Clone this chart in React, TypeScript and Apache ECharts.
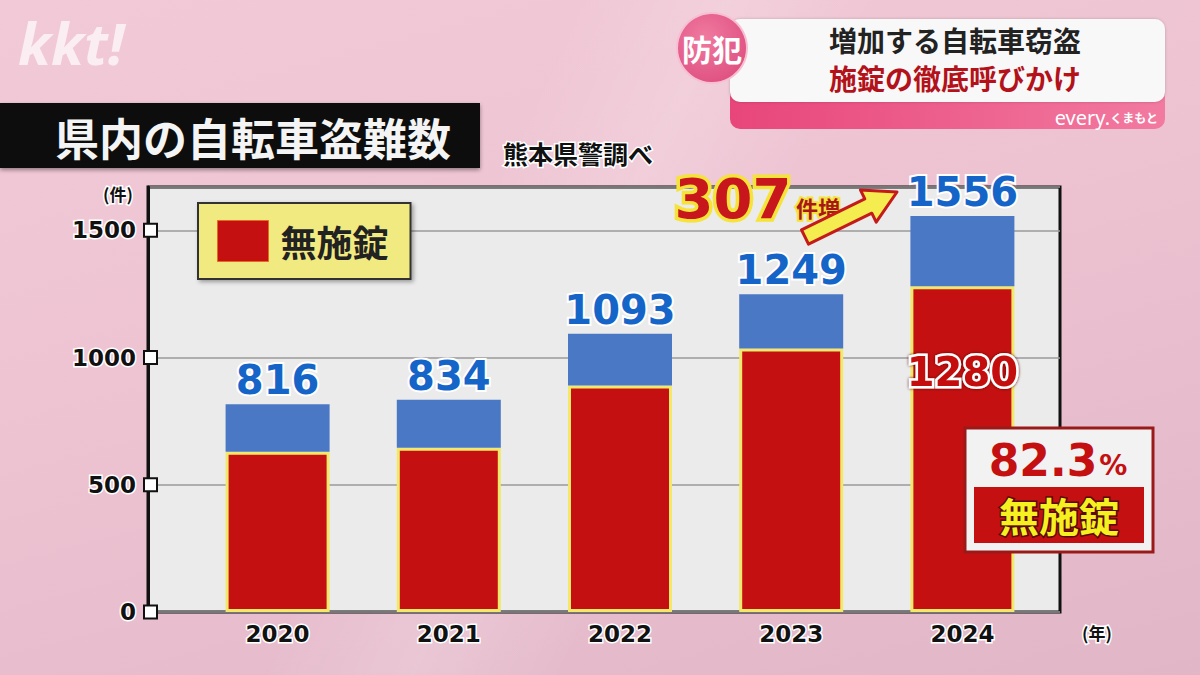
import React, { useEffect, useRef } from "react";
import * as echarts from "echarts";

const YEARS = ["2020", "2021", "2022", "2023", "2024"];
const TOTALS = [816, 834, 1093, 1249, 1556];
const UNLOCKED = [630, 645, 890, 1035, 1280];
const LOCKED = TOTALS.map((t, i) => t - UNLOCKED[i]);
const Y_MAX = 1670;
const Y_INTERVAL = 500;

const JP = '"Noto Sans CJK JP", "Noto Sans", sans-serif';
const NUM = '"DejaVu Sans", "Noto Sans", sans-serif';

export default function App() {
  const ref = useRef<HTMLDivElement>(null);
  useEffect(() => {
    if (!ref.current) return;
    const chart = echarts.init(ref.current, null, { renderer: "svg" });

    const arrowPts = [
      [808.5, 244.2],
      [871.8, 213.2],
      [876.2, 222.2],
      [897, 192],
      [860.4, 189.9],
      [864.8, 198.9],
      [801.5, 229.8],
    ];

    const option: any = {
      animation: false,
      backgroundColor: "transparent",
      grid: [
        { left: 192, right: 152, top: 187, bottom: 63, show: false },
        {
          left: 148,
          right: 140,
          top: 187,
          bottom: 63,
          show: true,
          backgroundColor: "#ebebeb",
          borderColor: "#111",
          borderWidth: 3,
        },
      ],
      xAxis: [
        {
          gridIndex: 0,
          type: "category",
          data: YEARS,
          axisLine: { show: false },
          axisTick: { show: false },
          axisLabel: {
            margin: 10,
            fontFamily: NUM,
            fontWeight: "bold",
            fontSize: 23,
            color: "#111",
            textBorderColor: "#fff",
            textBorderWidth: 3,
          },
        },
        { gridIndex: 1, type: "value", min: 0, max: 1, show: false },
      ],
      yAxis: [
        { gridIndex: 0, type: "value", min: 0, max: Y_MAX, show: false },
        {
          gridIndex: 1,
          type: "value",
          min: 0,
          max: Y_MAX,
          interval: Y_INTERVAL,
          axisLine: { show: true, lineStyle: { color: "#111", width: 3 } },
          axisTick: { show: false },
          splitLine: { show: true, lineStyle: { color: "#9a9a9a", width: 1.5 } },
          axisLabel: {
            margin: -8,
            formatter: (v: number) => (v % Y_INTERVAL === 0 ? `{t|${v}}{g|}{sq|}` : ""),
            rich: {
              t: {
                fontFamily: NUM,
                fontWeight: "bold",
                fontSize: 23,
                color: "#111",
                textBorderColor: "#fff",
                textBorderWidth: 3,
              },
              g: { width: 9 },
              sq: {
                width: 11,
                height: 11,
                backgroundColor: "#fff",
                borderColor: "#111",
                borderWidth: 2,
              },
            },
          },
        },
      ],
      legend: {
        data: ["無施錠"],
        left: 198,
        top: 203,
        padding: [17, 22, 17, 19],
        backgroundColor: "#f0ea80",
        borderColor: "#333",
        borderWidth: 2,
        shadowBlur: 4,
        shadowColor: "rgba(0,0,0,0.35)",
        shadowOffsetX: 2,
        shadowOffsetY: 2,
        itemWidth: 51,
        itemHeight: 41,
        icon: "rect",
        selectedMode: false,
        itemStyle: { borderWidth: 1, borderColor: "#e86a20" },
        textStyle: {
          fontFamily: JP,
          fontWeight: "bold",
          fontSize: 36,
          color: "#222",
          padding: [0, 0, 0, 7],
        },
      },
      series: [
        {
          name: "無施錠",
          type: "bar",
          stack: "total",
          xAxisIndex: 0,
          yAxisIndex: 0,
          barWidth: 104,
          itemStyle: { color: "#c41010", borderColor: "#f2e86a", borderWidth: 3 },
          data: UNLOCKED.map((v, i) =>
            i === UNLOCKED.length - 1
              ? {
                  value: v,
                  label: {
                    show: true,
                    position: "insideTop",
                    distance: 66,
                    formatter: (p: any) => String(p.value),
                    fontFamily: NUM,
                    fontWeight: "bold",
                    fontSize: 40,
                    color: "#c41010",
                    textBorderColor: "#fff",
                    textBorderWidth: 5,
                    textShadowColor: "#6a0c0c",
                    textShadowBlur: 3,
                  },
                }
              : v
          ),
        },
        {
          name: "施錠",
          type: "bar",
          stack: "total",
          xAxisIndex: 0,
          yAxisIndex: 0,
          barWidth: 104,
          itemStyle: { color: "#4a78c4" },
          label: {
            show: true,
            position: "top",
            distance: 4,
            formatter: (p: any) => String(TOTALS[p.dataIndex]),
            fontFamily: NUM,
            fontWeight: "bold",
            fontSize: 40,
            color: "#1565c8",
            textBorderColor: "#fff",
            textBorderWidth: 4,
          },
          data: LOCKED,
        },
      ],
      graphic: [
        // kkt logo
        {
          type: "text",
          x: 18,
          y: 42,
          z: 10,
          style: {
            text: "kkt!",
            fontFamily: '"Noto Sans", sans-serif',
            fontStyle: "italic",
            fontWeight: "bold",
            fontSize: 58,
            fill: "rgba(255,255,255,0.68)",
            verticalAlign: "middle",
          },
        },
        // title band
        {
          type: "rect",
          z: 10,
          shape: { x: 0, y: 103, width: 480, height: 65 },
          style: { fill: "#111", shadowBlur: 4, shadowColor: "rgba(0,0,0,0.4)", shadowOffsetY: 2 },
        },
        {
          type: "text",
          z: 11,
          x: 55,
          y: 137,
          style: {
            text: "県内の自転車盗難数",
            fontFamily: JP,
            fontWeight: "bold",
            fontSize: 44,
            fill: "#f4f4f4",
            verticalAlign: "middle",
          },
        },
        {
          type: "text",
          z: 11,
          x: 503,
          y: 153,
          style: {
            text: "熊本県警調べ",
            fontFamily: JP,
            fontWeight: "bold",
            fontSize: 25,
            fill: "#111",
            stroke: "#fff",
            lineWidth: 3,
            verticalAlign: "middle",
          },
        },
        // header
        {
          type: "rect",
          z: 10,
          shape: { x: 730, y: 92, width: 435, height: 37, r: [0, 0, 10, 10] },
          style: {
            fill: new echarts.graphic.LinearGradient(0, 0, 1, 0, [
              { offset: 0, color: "#e8467a" },
              { offset: 1, color: "#f27aa0" },
            ]),
          },
        },
        {
          type: "rect",
          z: 11,
          shape: { x: 730, y: 19, width: 435, height: 83, r: 10 },
          style: { fill: "#f8f8f8", shadowBlur: 3, shadowColor: "rgba(0,0,0,0.2)" },
        },
        {
          type: "text",
          z: 12,
          x: 955,
          y: 40,
          style: {
            text: "増加する自転車窃盗",
            fontFamily: JP,
            fontWeight: "bold",
            fontSize: 28,
            lineHeight: 28,
            fill: "#222",
            align: "center",
            verticalAlign: "middle",
          },
        },
        {
          type: "text",
          z: 12,
          x: 955,
          y: 78,
          style: {
            text: "施錠の徹底呼びかけ",
            fontFamily: JP,
            fontWeight: "bold",
            fontSize: 28,
            lineHeight: 28,
            fill: "#b3121b",
            align: "center",
            verticalAlign: "middle",
          },
        },
        {
          type: "text",
          z: 12,
          x: 1158,
          y: 117,
          style: {
            text: "{e|every.}{k|くまもと}",
            align: "right",
            verticalAlign: "middle",
            rich: {
              e: { fontFamily: '"Noto Sans", sans-serif', fontSize: 20, lineHeight: 20, fill: "#fff", color: "#fff" },
              k: { fontFamily: JP, fontSize: 12, lineHeight: 20, fill: "#fff", color: "#fff", fontWeight: "bold" },
            },
          },
        },
        {
          type: "circle",
          z: 13,
          shape: { cx: 712, cy: 48, r: 35 },
          style: {
            fill: new echarts.graphic.RadialGradient(0.4, 0.35, 0.8, [
              { offset: 0, color: "#f07aa0" },
              { offset: 1, color: "#dc4a7c" },
            ]),
            stroke: "#f7c0d2",
            lineWidth: 2,
          },
        },
        {
          type: "text",
          z: 14,
          x: 712,
          y: 48,
          style: {
            text: "防犯",
            fontFamily: JP,
            fontWeight: "bold",
            fontSize: 30,
            fill: "#fff",
            align: "center",
            verticalAlign: "middle",
          },
        },
        // axis unit labels
        {
          type: "text",
          z: 10,
          x: 118,
          y: 193,
          style: {
            text: "(件)",
            fontFamily: JP,
            fontWeight: "bold",
            fontSize: 17,
            fill: "#111",
            stroke: "#fff",
            lineWidth: 3,
            align: "center",
            verticalAlign: "middle",
          },
        },
        {
          type: "text",
          z: 10,
          x: 1097,
          y: 632,
          style: {
            text: "(年)",
            fontFamily: JP,
            fontWeight: "bold",
            fontSize: 17,
            fill: "#111",
            stroke: "#fff",
            lineWidth: 3,
            align: "center",
            verticalAlign: "middle",
          },
        },
        // 307件増 annotation
        {
          type: "text",
          z: 12,
          x: 733,
          y: 198,
          style: {
            text: "307",
            fontFamily: NUM,
            fontWeight: "bold",
            fontSize: 56,
            fill: "#c8161d",
            stroke: "#f5e33a",
            lineWidth: 7,
            align: "center",
            verticalAlign: "middle",
          },
        },
        {
          type: "text",
          z: 12,
          x: 818,
          y: 207,
          style: {
            text: "件増",
            fontFamily: JP,
            fontWeight: "bold",
            fontSize: 22,
            fill: "#a81818",
            stroke: "#f5e33a",
            lineWidth: 4,
            align: "center",
            verticalAlign: "middle",
          },
        },
        {
          type: "polygon",
          z: 12,
          shape: { points: arrowPts },
          style: { fill: "#f5ec50", stroke: "#c41a1a", lineWidth: 3, lineJoin: "round" },
        },
        // 82.3% box
        {
          type: "rect",
          z: 12,
          shape: { x: 965, y: 428, width: 188, height: 124 },
          style: { fill: "#f2f2f2", stroke: "#9a1a1a", lineWidth: 3 },
        },
        {
          type: "text",
          z: 13,
          x: 1058,
          y: 460,
          style: {
            text: "{a|82.3}{b|%}",
            align: "center",
            verticalAlign: "middle",
            rich: {
              a: { fontFamily: NUM, fontWeight: "bold", fontSize: 44, color: "#c41010", fill: "#c41010" },
              b: { fontFamily: NUM, fontWeight: "bold", fontSize: 28, color: "#c41010", fill: "#c41010", padding: [10, 0, 0, 2] },
            },
          },
        },
        {
          type: "rect",
          z: 13,
          shape: { x: 974, y: 487, width: 170, height: 56 },
          style: { fill: "#c41010" },
        },
        {
          type: "text",
          z: 14,
          x: 1059,
          y: 515,
          style: {
            text: "無施錠",
            fontFamily: JP,
            fontWeight: "bold",
            fontSize: 40,
            fill: "#f5f020",
            stroke: "#5a0a0a",
            lineWidth: 3,
            align: "center",
            verticalAlign: "middle",
          },
        },
      ],
    };

    chart.setOption(option);
    return () => chart.dispose();
  }, []);

  return (
    <div
      ref={ref}
      style={{
        position: "fixed",
        left: 0,
        top: 0,
        width: 1200,
        height: 675,
        background:
          "linear-gradient(115deg, rgba(255,255,255,0) 38%, rgba(255,255,255,0.16) 48%, rgba(255,255,255,0) 58%), linear-gradient(165deg, #f2cad7 0%, #edc3d2 45%, #e1b7c8 100%)",
      }}
    />
  );
}
